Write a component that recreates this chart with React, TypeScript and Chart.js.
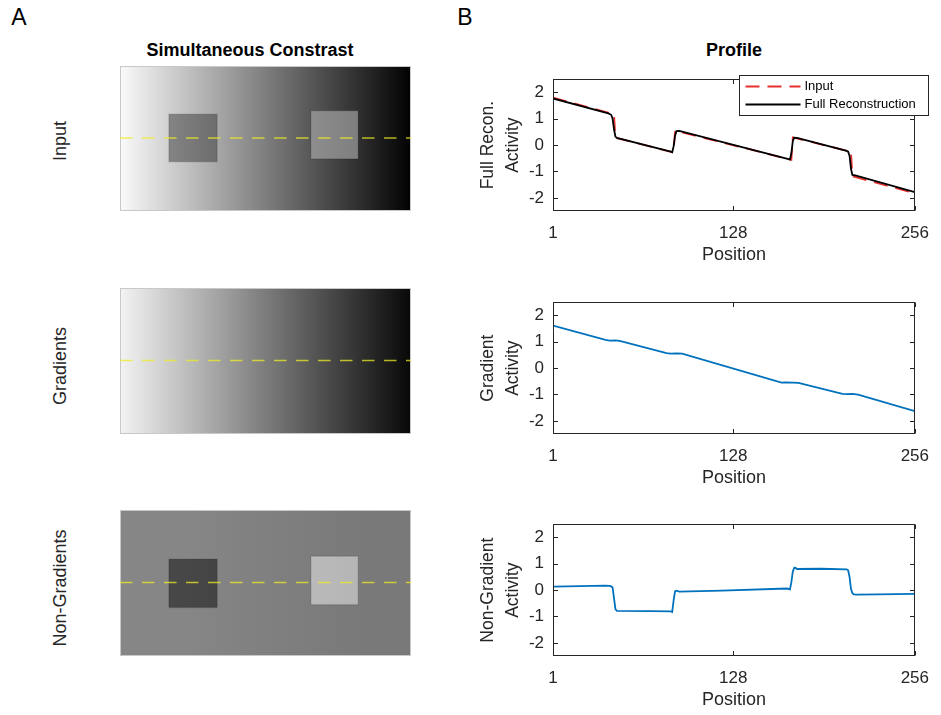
import React, { useEffect, useRef } from 'react';
import { Chart, registerables } from 'chart.js';

Chart.register(...registerables);

const FONT = '"Liberation Sans", Arial, Helvetica, sans-serif';
const TXT = '#262626';
const BLUE = '#0072BD';
const RED = '#E8302E';
const YELLOW = 'rgba(236,236,40,0.74)';

// ---------- axis ticks ----------
const positionTicks = [1, 128, 256];
const activityTicks = [-2, -1, 0, 1, 2];

// ---------- profile: Input (red dashed) ----------
const inputX = [1, 44, 45, 86, 87, 169, 170, 211, 212, 256];
const inputY = [1.8, 1.17, 0.28, -0.28, 0.55, -0.56, 0.29, -0.25, -1.18, -1.83];

// ---------- profile: Full Reconstruction (black) ----------
const reconX = [1, 40, 42, 43, 44, 45, 46, 84, 85, 86, 87, 88, 90, 167, 168, 169, 170, 171, 173, 208, 209, 210, 211, 212, 214, 256];
const reconY = [1.77, 1.2, 1.15, 1.0, 0.6, 0.32, 0.27, -0.25, -0.27, -0.05, 0.35, 0.53, 0.54, -0.53, -0.55, -0.3, 0.15, 0.28, 0.27, -0.22, -0.25, -0.4, -0.9, -1.13, -1.15, -1.78];

// ---------- profile: Gradient ----------
const gradX = [1, 38, 41, 45, 48, 81, 84, 88, 92, 162, 165, 170, 174, 205, 208, 212, 216, 256];
const gradY = [1.61, 1.07, 1.04, 1.05, 1.03, 0.57, 0.55, 0.56, 0.55, -0.55, -0.54, -0.55, -0.56, -0.98, -0.99, -0.98, -1.01, -1.63];

// ---------- profile: Non-Gradient ----------
const nonGradX = [1, 20, 38, 41, 42, 43, 44, 45, 46, 70, 84, 85, 86, 87, 88, 90, 120, 166, 168, 169, 170, 171, 172, 173, 190, 208, 209, 210, 211, 212, 213, 215, 230, 256];
const nonGradY = [0.13, 0.15, 0.17, 0.16, 0.14, 0.1, -0.3, -0.72, -0.79, -0.8, -0.81, -0.83, -0.4, -0.05, -0.02, -0.06, -0.02, 0.06, 0.03, 0.3, 0.7, 0.85, 0.84, 0.8, 0.81, 0.79, 0.75, 0.5, 0.05, -0.12, -0.16, -0.17, -0.16, -0.14];

// ---------- images (gray levels 0-255, columns 0..256, rows 0..128) ----------
const profileRow = 63.5;
const squareCols = [[43, 85.5], [168, 209.5]];
const inputBgX = [0, 128, 256];
const inputBgGray = [250, 126, 2];
const inputSquareRows = [[42.5, 84.5], [39.5, 82]];
const inputSquareGray = [[132, 108], [142, 126]];
const gradBgX = [0, 128, 256];
const gradBgGray = [243, 124, 8];
const nonGradBgX = [0, 60, 128, 200, 256];
const nonGradBgGray = [134, 134, 128, 122, 121];
const nonGradSquareRows = [[43, 85.5], [40.5, 83]];
const nonGradSquareGray = [[72, 68], [186, 181]];

const pts = (xs: number[], ys: number[]) => xs.map((x, i) => ({ x, y: ys[i] }));

const frameTicksPlugin = {
  id: 'frameTicks',
  afterDatasetsDraw(chart: any) {
    const { ctx, chartArea: a, scales } = chart;
    const xs = scales.x, ys = scales.y;
    const L = Math.round(a.left) + 0.5, R = Math.round(a.right) - 0.5;
    const T = Math.round(a.top) + 0.5, B = Math.round(a.bottom) - 0.5;
    const tl = 4.5;
    ctx.save();
    ctx.strokeStyle = TXT;
    ctx.lineWidth = 1;
    ctx.strokeRect(L, T, R - L, B - T);
    ctx.beginPath();
    for (const v of positionTicks) {
      const p = Math.round(xs.getPixelForValue(v)) + 0.5;
      ctx.moveTo(p, B); ctx.lineTo(p, B - tl);
      ctx.moveTo(p, T); ctx.lineTo(p, T + tl);
    }
    for (const v of activityTicks) {
      const p = Math.round(ys.getPixelForValue(v)) + 0.5;
      ctx.moveTo(L, p); ctx.lineTo(L + tl, p);
      ctx.moveTo(R, p); ctx.lineTo(R - tl, p);
    }
    ctx.stroke();
    ctx.restore();
  },
};

const legendPlugin = {
  id: 'boxLegend',
  afterDraw(chart: any) {
    const { ctx, chartArea: a } = chart;
    const bx = Math.round(a.right) - 176 + 0.5;
    const by = Math.round(a.top) - 4 + 0.5;
    const bw = 189, bh = 40;
    ctx.save();
    ctx.fillStyle = '#ffffff';
    ctx.fillRect(bx, by, bw, bh);
    ctx.strokeStyle = TXT;
    ctx.lineWidth = 1;
    ctx.strokeRect(bx, by, bw, bh);
    const order = ['Input', 'Full Reconstruction'];
    order.forEach((label, i) => {
      const ds = chart.data.datasets.find((d: any) => d.label === label);
      const yy = by + 11 + i * 18;
      ctx.beginPath();
      ctx.strokeStyle = ds.borderColor;
      ctx.lineWidth = ds.borderWidth;
      ctx.setLineDash(ds.borderDash || []);
      ctx.moveTo(bx + 6, yy);
      ctx.lineTo(bx + 61, yy);
      ctx.stroke();
      ctx.setLineDash([]);
      ctx.fillStyle = '#000000';
      ctx.font = `13px ${FONT}`;
      ctx.textAlign = 'left';
      ctx.textBaseline = 'middle';
      ctx.fillText(label, bx + 65, yy);
    });
    ctx.restore();
  },
};

function lineOptions(yTitle: string[]) {
  const tickFont = { family: FONT, size: 17 };
  return {
    animation: false,
    responsive: false,
    maintainAspectRatio: false,
    layout: { padding: { top: 6, right: 18, left: 0, bottom: 0 } },
    plugins: { legend: { display: false }, tooltip: { enabled: false }, title: { display: false } },
    elements: { point: { radius: 0 }, line: { tension: 0 } },
    scales: {
      x: {
        type: 'linear',
        min: 1,
        max: 256,
        afterBuildTicks: (s: any) => { s.ticks = positionTicks.map((v) => ({ value: v })); },
        afterFit: (s: any) => { s.height = 59; },
        grid: { display: false, drawTicks: false },
        border: { display: false },
        ticks: { padding: 12, color: TXT, font: tickFont, maxRotation: 0, autoSkip: false },
        title: { display: true, text: 'Position', color: TXT, font: { family: FONT, size: 18, lineHeight: 1.2 }, padding: { top: 0, bottom: 4 } },
      },
      y: {
        type: 'linear',
        min: -2.5,
        max: 2.5,
        afterBuildTicks: (s: any) => { s.ticks = activityTicks.map((v) => ({ value: v })); },
        afterFit: (s: any) => { s.width = 83; },
        grid: { display: false, drawTicks: false },
        border: { display: false },
        ticks: { padding: 9, color: TXT, font: tickFont, autoSkip: false },
        title: { display: true, text: yTitle, color: TXT, font: { family: FONT, size: 17.5, lineHeight: 1.43 }, padding: { top: 5.5, bottom: 0 } },
      },
    },
  };
}

function LineChart({ top, yTitle, makeDatasets, legend }: { top: number; yTitle: string[]; makeDatasets: () => any[]; legend?: boolean }) {
  const ref = useRef<HTMLCanvasElement>(null);
  useEffect(() => {
    const chart = new Chart(ref.current as HTMLCanvasElement, {
      type: 'line',
      data: { datasets: makeDatasets() },
      options: lineOptions(yTitle) as any,
      plugins: legend ? [frameTicksPlugin, legendPlugin] : [frameTicksPlugin],
    } as any);
    return () => chart.destroy();
  }, []);
  return (
    <canvas
      ref={ref}
      width={471}
      height={210}
      style={{ position: 'absolute', left: 470, top, width: 471, height: 210 }}
    />
  );
}

type ImgSpec = {
  bgX: number[];
  bgGray: number[];
  squareRows: number[][];
  squareGray: number[][];
};

function ImagePanel({ top, height, spec }: { top: number; height: number; spec: ImgSpec }) {
  const ref = useRef<HTMLCanvasElement>(null);
  useEffect(() => {
    const imagePlugin = {
      id: 'imagePanel',
      beforeDatasetsDraw(chart: any) {
        const { ctx, chartArea: a, scales } = chart;
        const xs = scales.x, ys = scales.y;
        const shade = (g: number) => `rgb(${g},${g},${g})`;
        const grad = (xv: number[], gv: number[]) => {
          const p0 = xs.getPixelForValue(xv[0]);
          const p1 = xs.getPixelForValue(xv[xv.length - 1]);
          const g = ctx.createLinearGradient(p0, 0, p1, 0);
          xv.forEach((v, i) => g.addColorStop((xs.getPixelForValue(v) - p0) / (p1 - p0), shade(gv[i])));
          return g;
        };
        ctx.save();
        ctx.fillStyle = grad(spec.bgX, spec.bgGray);
        ctx.fillRect(a.left, a.top, a.right - a.left, a.bottom - a.top);
        spec.squareRows.forEach((rows, i) => {
          const cols = squareCols[i];
          const x0 = xs.getPixelForValue(cols[0]);
          const x1 = xs.getPixelForValue(cols[1]);
          const y0 = ys.getPixelForValue(rows[0]);
          const y1 = ys.getPixelForValue(rows[1]);
          ctx.fillStyle = grad(cols, spec.squareGray[i]);
          ctx.fillRect(x0, y0, x1 - x0, y1 - y0);
          ctx.strokeStyle = 'rgba(0,0,0,0.10)';
          ctx.lineWidth = 1.5;
          ctx.strokeRect(x0, y0, x1 - x0, y1 - y0);
        });
        ctx.strokeStyle = 'rgba(200,200,200,1)';
        ctx.lineWidth = 1;
        ctx.strokeRect(a.left + 0.5, a.top + 0.5, a.right - a.left - 1, a.bottom - a.top - 1);
        ctx.restore();
      },
    };
    const chart = new Chart(ref.current as HTMLCanvasElement, {
      type: 'line',
      data: {
        datasets: [
          {
            data: [{ x: 0, y: profileRow }, { x: 256, y: profileRow }],
            borderColor: YELLOW,
            borderWidth: 1.6,
            borderDash: [12.5, 9.5],
            pointRadius: 0,
          },
        ],
      },
      options: {
        animation: false,
        responsive: false,
        maintainAspectRatio: false,
        layout: { padding: 0 },
        plugins: { legend: { display: false }, tooltip: { enabled: false } },
        scales: {
          x: { type: 'linear', min: 0, max: 256, display: false },
          y: { type: 'linear', min: 0, max: 128, reverse: true, display: false },
        },
      } as any,
      plugins: [imagePlugin],
    } as any);
    return () => chart.destroy();
  }, []);
  return (
    <canvas
      ref={ref}
      width={291}
      height={height}
      style={{ position: 'absolute', left: 120, top, width: 291, height }}
    />
  );
}

function Txt({ x, y, text, size, bold, rotate, color }: { x: number; y: number; text: string; size: number; bold?: boolean; rotate?: boolean; color?: string }) {
  return (
    <div
      style={{
        position: 'absolute',
        left: x,
        top: y,
        transform: `translate(-50%, -50%)${rotate ? ' rotate(-90deg)' : ''}`,
        fontFamily: FONT,
        fontSize: size,
        fontWeight: bold ? 'bold' : 'normal',
        lineHeight: 1,
        whiteSpace: 'nowrap',
        color: color || TXT,
      }}
    >
      {text}
    </div>
  );
}

export default function App() {
  return (
    <div style={{ position: 'absolute', left: 0, top: 0, width: 941, height: 715, background: '#ffffff', overflow: 'hidden' }}>
      <Txt x={19} y={16.5} text="A" size={23} color="#000" />
      <Txt x={465} y={16.5} text="B" size={23} color="#000" />
      <Txt x={250} y={50} text="Simultaneous Constrast" size={18} bold color="#000" />
      <Txt x={734} y={50} text="Profile" size={18} bold color="#000" />
      <Txt x={60} y={141} text="Input" size={18} rotate />
      <Txt x={60} y={366} text="Gradients" size={18} rotate />
      <Txt x={60} y={588} text="Non-Gradients" size={18} rotate />

      <ImagePanel top={66} height={145} spec={{ bgX: inputBgX, bgGray: inputBgGray, squareRows: inputSquareRows, squareGray: inputSquareGray }} />
      <ImagePanel top={288} height={146} spec={{ bgX: gradBgX, bgGray: gradBgGray, squareRows: [], squareGray: [] }} />
      <ImagePanel top={510} height={146} spec={{ bgX: nonGradBgX, bgGray: nonGradBgGray, squareRows: nonGradSquareRows, squareGray: nonGradSquareGray }} />

      <LineChart
        top={60}
        yTitle={['Full Recon.', 'Activity']}
        legend
        makeDatasets={() => [
          { label: 'Full Reconstruction', data: pts(reconX, reconY), borderColor: '#000000', borderWidth: 1.8, pointRadius: 0 },
          { label: 'Input', data: pts(inputX, inputY), borderColor: RED, borderWidth: 1.8, borderDash: [14, 8], pointRadius: 0 },
        ]}
      />
      <LineChart
        top={283}
        yTitle={['Gradient', 'Activity']}
        makeDatasets={() => [{ label: 'Gradient', data: pts(gradX, gradY), borderColor: BLUE, borderWidth: 1.8, pointRadius: 0 }]}
      />
      <LineChart
        top={505}
        yTitle={['Non-Gradient', 'Activity']}
        makeDatasets={() => [{ label: 'Non-Gradient', data: pts(nonGradX, nonGradY), borderColor: BLUE, borderWidth: 1.8, pointRadius: 0 }]}
      />
    </div>
  );
}
